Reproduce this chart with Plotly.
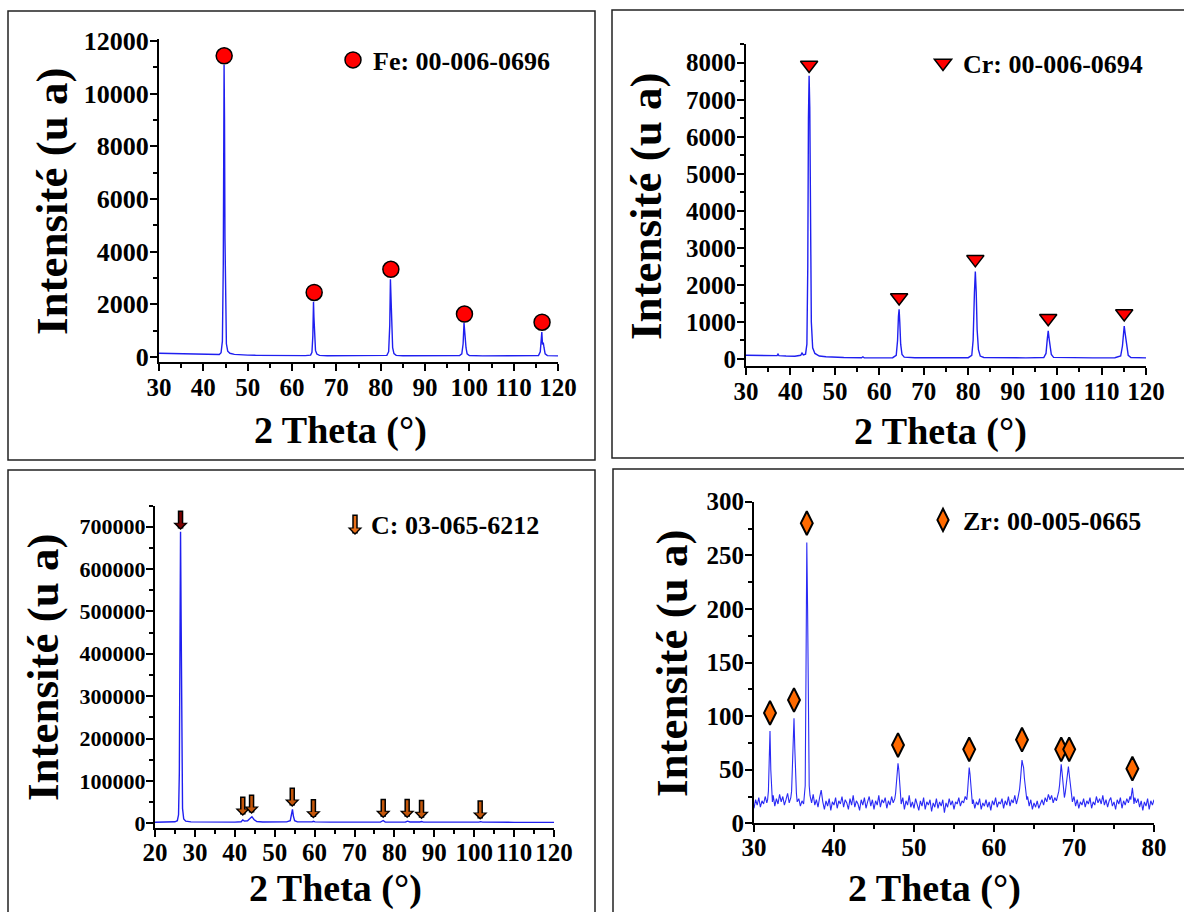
import plotly.graph_objects as go

W, H = 1184, 912

# ---------------- data ----------------
fe_2theta = [30, 31, 32, 33, 34, 35, 36, 37, 38, 39, 40, 41, 42, 43,
             43.6, 44.0, 44.3, 44.5, 44.6, 44.68, 44.78, 44.88, 45.0, 45.2, 45.5,
             46, 47, 48, 50, 52, 55, 58, 61, 63,
             64.2, 64.5, 64.7, 64.85, 64.95, 65.1, 65.3, 65.6, 66.2,
             68, 72, 76, 80,
             81.4, 81.8, 82.05, 82.2, 82.35, 82.5, 82.7, 83.0, 83.5,
             85, 90, 95,
             97.8, 98.3, 98.6, 98.8, 98.95, 99.1, 99.25, 99.5, 100,
             103, 108, 113,
             115.6, 116.0, 116.2, 116.35, 116.5, 116.7, 116.85, 117.1, 117.6, 120]
fe_intensity = [140, 138, 135, 133, 130, 128, 125, 122, 118, 114, 108, 100, 92, 88,
                95, 160, 600, 3500, 8000, 11100, 9000, 4500, 1500, 500, 220,
                140, 100, 85, 70, 62, 55, 52, 50, 50,
                70, 180, 800, 2100, 1500, 600, 250, 110, 60,
                48, 45, 45, 46,
                60, 200, 1200, 2950, 2000, 900, 350, 130, 60,
                45, 42, 42,
                50, 120, 500, 1300, 900, 650, 350, 120, 55,
                42, 40, 40,
                50, 200, 600, 950, 500, 520, 350, 120, 50, 40]
fe_peak_2theta = [44.7, 65.0, 82.3, 98.9, 116.4]
fe_peak_mark = [11440, 2450, 3330, 1630, 1320]

cr_2theta = [30, 32, 34, 36, 37, 37.2, 37.4, 39, 41,
             42.3, 42.6, 42.9, 43.4, 43.7, 43.9, 44.05, 44.2, 44.35, 44.5, 44.7, 45.0, 45.5, 46.5, 48,
             52, 56, 56.3, 56.6, 60, 63,
             63.8, 64.1, 64.3, 64.45, 64.6, 64.8, 65.1, 65.6,
             68, 72, 76, 80,
             80.8, 81.1, 81.4, 81.6, 81.8, 82.0, 82.3, 82.7, 83.5,
             88, 93, 97,
             97.5, 97.8, 98.0, 98.2, 98.4, 98.7, 99.2,
             103, 108, 113,
             114.3, 114.7, 114.95, 115.1, 115.3, 115.5, 115.7, 116.0, 116.6, 120]
cr_intensity = [100, 95, 90, 85, 90, 130, 90, 80, 75,
                100, 160, 110, 130, 400, 2500, 6500, 7650, 6800, 3500, 1000, 300, 150, 80, 60,
                40, 35, 60, 35, 30, 35,
                100, 500, 1150, 1340, 1000, 400, 120, 50,
                35, 30, 30, 35,
                100, 500, 1800, 2360, 1800, 800, 250, 80, 40,
                30, 30, 40,
                150, 550, 760, 550, 350, 120, 45,
                30, 30, 35,
                80, 350, 800, 890, 700, 550, 300, 100, 40, 30]
cr_peak_2theta = [44.2, 64.45, 81.6, 98.0, 115.1]
cr_peak_mark = [7940, 1660, 2690, 1100, 1230]

c_2theta = [20, 22, 24, 25, 25.6, 25.9, 26.1, 26.25, 26.4, 26.55, 26.7, 26.9, 27.2, 27.7, 29,
            32, 36, 40, 41.6, 42.0, 42.4, 43.2, 43.8, 44.3, 44.8, 45.5, 47, 50, 53,
            53.9, 54.2, 54.45, 54.7, 55.0, 55.7, 58, 59.4, 59.7, 60.1,
            64, 70, 76.5, 77.2, 77.7, 80,
            82.8, 83.3, 83.9, 86.4, 86.8, 87.3,
            92, 100, 101.2, 101.6, 102.1, 110, 120]
c_intensity = [2400, 2500, 2800, 3500, 6000, 20000, 120000, 450000, 688000, 480000, 150000, 35000, 10000, 5000, 3200,
               2800, 2600, 2800, 3500, 8000, 5000, 6000, 11000, 15500, 9000, 4000, 3000, 2800, 3200,
               6000, 18000, 33000, 16000, 6000, 3200, 2900, 3200, 4500, 3200,
               2800, 2600, 2800, 6500, 3000, 2600,
               3000, 5000, 3000, 3000, 4000, 2800,
               2500, 2400, 2800, 3800, 2600, 2200, 2000]
c_arrow_2theta = [26.4, 42.0, 44.2, 54.4, 59.7, 77.2, 83.2, 86.8, 101.5]
c_arrow_tip = [692000, 17400, 22000, 38500, 11000, 12000, 12000, 9600, 8000]

zr_pattern = [
    (30.0, 14), (30.2, 22), (30.4, 17), (30.6, 24), (30.8, 15), (31.0, 21), (31.2, 18), (31.4, 25), (31.6, 19),
    (31.7, 22), (31.8, 30), (31.9, 55), (32.0, 86), (32.1, 50), (32.2, 28), (32.3, 20),
    (32.4, 26), (32.6, 16), (32.8, 23), (33.0, 18), (33.2, 27), (33.4, 20), (33.6, 25), (33.8, 17), (34.0, 22),
    (34.2, 28), (34.4, 19),
    (34.6, 24), (34.7, 30), (34.8, 50), (34.9, 80), (35.0, 98), (35.1, 70), (35.2, 42), (35.3, 28), (35.4, 20),
    (35.6, 23), (35.8, 16), (36.0, 21), (36.2, 18), (36.3, 24),
    (36.4, 35), (36.5, 140), (36.6, 262), (36.7, 200), (36.8, 80), (36.9, 35), (37.0, 26),
    (37.2, 19), (37.4, 27), (37.6, 17), (37.8, 22), (38.0, 15), (38.2, 24), (38.4, 31), (38.6, 20), (38.8, 13),
    (39.0, 21), (39.2, 16), (39.4, 23), (39.6, 12), (39.8, 20), (40.0, 17), (40.2, 24), (40.4, 14), (40.6, 21),
    (40.8, 18), (41.0, 25), (41.2, 15), (41.4, 22), (41.6, 19), (41.8, 13), (42.0, 23), (42.2, 17), (42.4, 26),
    (42.6, 15), (42.8, 21), (43.0, 18), (43.2, 12), (43.4, 22), (43.6, 17), (43.8, 24), (44.0, 14), (44.2, 20),
    (44.4, 25), (44.6, 16), (44.8, 22), (45.0, 13), (45.2, 21), (45.4, 17), (45.6, 26), (45.8, 15), (46.0, 22),
    (46.2, 19), (46.4, 24), (46.6, 14), (46.8, 21), (47.0, 17), (47.2, 25), (47.4, 19), (47.6, 23),
    (47.7, 28), (47.8, 36), (47.9, 48), (48.0, 56), (48.1, 50), (48.2, 38), (48.3, 26), (48.4, 18),
    (48.6, 24), (48.8, 13), (49.0, 21), (49.2, 17), (49.4, 26), (49.6, 15), (49.8, 20), (50.0, 14), (50.2, 23),
    (50.4, 18), (50.6, 12), (50.8, 21), (51.0, 16), (51.2, 24), (51.4, 13), (51.6, 20), (51.8, 17), (52.0, 22),
    (52.2, 11), (52.4, 19), (52.6, 15), (52.8, 23), (53.0, 14), (53.2, 20), (53.4, 16), (53.6, 22), (53.8, 10),
    (54.0, 19), (54.2, 15), (54.4, 23), (54.6, 17), (54.8, 21), (55.0, 13), (55.2, 20), (55.4, 18), (55.6, 24),
    (55.8, 16), (56.0, 21), (56.2, 19), (56.4, 25), (56.6, 22),
    (56.7, 30), (56.8, 44), (56.9, 52), (57.0, 46), (57.1, 34), (57.2, 25), (57.3, 18),
    (57.4, 22), (57.6, 14), (57.8, 20), (58.0, 17), (58.2, 23), (58.4, 13), (58.6, 19), (58.8, 16), (59.0, 22),
    (59.2, 15), (59.4, 20), (59.6, 12), (59.8, 21), (60.0, 17), (60.2, 24), (60.4, 15), (60.6, 20), (60.8, 18),
    (61.0, 23), (61.2, 14), (61.4, 21), (61.6, 17), (61.8, 25), (62.0, 16), (62.2, 22), (62.4, 19), (62.6, 26),
    (62.8, 18), (63.0, 24), (63.1, 28),
    (63.2, 32), (63.3, 40), (63.4, 50), (63.5, 59), (63.6, 55), (63.7, 52), (63.8, 42), (63.9, 34), (64.0, 27),
    (64.1, 22),
    (64.2, 25), (64.4, 16), (64.6, 22), (64.8, 13), (65.0, 19), (65.2, 15), (65.4, 21), (65.6, 14), (65.8, 18),
    (66.0, 22), (66.2, 17), (66.4, 24), (66.6, 20), (66.8, 27), (67.0, 22), (67.2, 26), (67.4, 19), (67.6, 24),
    (67.8, 21), (68.0, 27),
    (68.1, 30), (68.2, 36), (68.3, 45), (68.4, 55), (68.5, 48), (68.6, 38), (68.7, 30), (68.8, 24), (68.9, 28),
    (69.0, 34), (69.1, 42), (69.2, 50), (69.3, 53), (69.4, 46), (69.5, 38), (69.6, 30), (69.7, 24), (69.8, 20),
    (70.0, 25), (70.2, 16), (70.4, 22), (70.6, 14), (70.8, 20), (71.0, 17), (71.2, 23), (71.4, 15), (71.6, 21),
    (71.8, 18), (72.0, 24), (72.2, 14), (72.4, 20), (72.6, 17), (72.8, 25), (73.0, 19), (73.2, 23), (73.4, 18),
    (73.6, 26), (73.8, 17), (74.0, 22), (74.2, 15), (74.4, 21), (74.6, 24), (74.8, 16), (75.0, 20), (75.2, 13),
    (75.4, 22), (75.6, 18), (75.8, 24), (76.0, 14), (76.2, 21), (76.4, 17), (76.6, 23), (76.8, 19), (77.0, 25),
    (77.1, 22), (77.2, 29), (77.3, 33), (77.4, 26), (77.5, 18),
    (77.6, 24), (77.8, 19), (78.0, 23), (78.2, 15), (78.4, 21), (78.6, 12), (78.8, 20), (79.0, 16), (79.2, 23),
    (79.4, 13), (79.6, 21), (79.8, 17), (80.0, 22),
]
zr_2theta = [p[0] for p in zr_pattern]
zr_intensity = [p[1] for p in zr_pattern]
zr_peak_2theta = [32.0, 35.0, 36.6, 48.0, 56.9, 63.5, 68.4, 69.4, 77.3]
zr_peak_mark = [103, 115, 280, 73, 69, 78, 69, 69, 51]

fe_label = "Fe: 00-006-0696"
cr_label = "Cr: 00-006-0694"
c_label = "C: 03-065-6212"
zr_label = "Zr: 00-005-0665"
x_title = "2 Theta (°)"
y_title = "Intensité (u a)"

# ---------------- helpers ----------------
FONT = "Liberation Serif"


def px(x):
    return x / W


def py(y):
    return 1 - y / H


def axis(domain, rng, dtick, minor, anchor, fs, standoff, tick0=0):
    return dict(
        domain=domain, range=rng, anchor=anchor, automargin=False,
        showline=True, linecolor="black", linewidth=2,
        ticks="outside", ticklen=7, tickwidth=2, tickcolor="black",
        tick0=tick0, dtick=dtick, ticklabelstandoff=standoff,
        minor=dict(ticks="outside", dtick=minor, tick0=tick0, ticklen=4,
                   tickwidth=1.5, tickcolor="black", showgrid=False),
        showgrid=False, zeroline=False, tickangle=0, tickformat="d",
        tickfont=dict(family=FONT, size=fs, color="black", weight="bold"),
    )


LINE = dict(color="#1f1ff0", width=1.4)

fig = go.Figure()

# Fe panel
fig.add_trace(go.Scatter(x=fe_2theta, y=fe_intensity, mode="lines", line=LINE,
                         xaxis="x", yaxis="y", showlegend=False, hoverinfo="skip"))
fig.add_trace(go.Scatter(x=fe_peak_2theta, y=fe_peak_mark, mode="markers", name=fe_label,
                         marker=dict(symbol="circle", size=16, color="#ff0000",
                                     line=dict(color="black", width=1.5)),
                         xaxis="x", yaxis="y", legend="legend", cliponaxis=False))
# Cr panel
fig.add_trace(go.Scatter(x=cr_2theta, y=cr_intensity, mode="lines", line=LINE,
                         xaxis="x2", yaxis="y2", showlegend=False, hoverinfo="skip"))
fig.add_trace(go.Scatter(x=cr_peak_2theta, y=cr_peak_mark, mode="markers", name=cr_label,
                         marker=dict(symbol="triangle-down", size=15, color="#ff0000",
                                     line=dict(color="black", width=1.5)),
                         xaxis="x2", yaxis="y2", legend="legend2", cliponaxis=False))
# C panel
fig.add_trace(go.Scatter(x=c_2theta, y=c_intensity, mode="lines", line=LINE,
                         xaxis="x3", yaxis="y3", showlegend=False, hoverinfo="skip"))
# Zr panel
fig.add_trace(go.Scatter(x=zr_2theta, y=zr_intensity, mode="lines",
                         line=dict(color="#2a2af5", width=1.1),
                         xaxis="x4", yaxis="y4", showlegend=False, hoverinfo="skip"))
fig.add_trace(go.Scatter(x=zr_peak_2theta, y=zr_peak_mark, mode="markers", name=zr_label,
                         marker=dict(symbol="diamond-tall", size=17, color="#ff6a00",
                                     line=dict(color="black", width=2)),
                         xaxis="x4", yaxis="y4", legend="legend3", cliponaxis=False))

# C peak arrows (outlined block arrows)
for i, (xv, yv) in enumerate(zip(c_arrow_2theta, c_arrow_tip)):
    fill = "#7d0000" if i == 0 else "#c4570b"
    fig.add_annotation(x=xv, y=yv, xref="x3", yref="y3", text="", showarrow=True,
                       ax=0, ay=-21, arrowhead=1, arrowwidth=5.5, arrowsize=0.45,
                       arrowcolor="black")
    fig.add_annotation(x=xv, y=yv, xref="x3", yref="y3", text="", showarrow=True,
                       ax=0, ay=-19.5, arrowhead=1, arrowwidth=2.5, arrowsize=0.6,
                       arrowcolor=fill, standoff=2)

# C legend (arrow + label)
fig.add_annotation(x=px(355), y=py(535), xref="paper", yref="paper", text="", showarrow=True,
                   ax=0, ay=-22, arrowhead=1, arrowwidth=5.5, arrowsize=0.45, arrowcolor="black")
fig.add_annotation(x=px(355), y=py(535), xref="paper", yref="paper", text="", showarrow=True,
                   ax=0, ay=-20.5, arrowhead=1, arrowwidth=2.5, arrowsize=0.6,
                   arrowcolor="#e8701a", standoff=2)
fig.add_annotation(x=px(369), y=py(525), xref="paper", yref="paper", text=c_label,
                   showarrow=False, xanchor="left", yanchor="middle",
                   font=dict(family=FONT, size=26, color="black", weight="bold"))

# axis titles (top row centred; bottom row sits on the lower page edge)
XT_FONT = dict(family=FONT, size=38, color="black", weight="bold")
for cx, cy in [(340, 430), (940, 432)]:
    fig.add_annotation(x=px(cx), y=py(cy), xref="paper", yref="paper", text=x_title,
                       showarrow=False, xanchor="center", yanchor="middle", font=XT_FONT)
for cx in [335, 934]:
    fig.add_annotation(x=px(cx), y=0, xref="paper", yref="paper", text=x_title,
                       showarrow=False, xanchor="center", yanchor="bottom", font=XT_FONT)
for cx, cy in [(52, 201), (646, 206), (43, 667), (672, 663)]:
    fig.add_annotation(x=px(cx), y=py(cy), xref="paper", yref="paper", text=y_title,
                       showarrow=False, textangle=-90, xanchor="center", yanchor="middle",
                       font=dict(family=FONT, size=45, color="black", weight="bold"))

# panel frames
for x0, y0, x1, y1 in [(8, 11, 595, 460), (612, 10, 1190, 458),
                       (8, 470, 595, 920), (613, 469, 1190, 920)]:
    fig.add_shape(type="rect", xref="paper", yref="paper",
                  x0=px(x0), x1=px(x1), y0=py(y1), y1=py(y0),
                  line=dict(color="#222222", width=1.5), fillcolor="rgba(0,0,0,0)")

LEG = dict(bgcolor="rgba(0,0,0,0)", borderwidth=0, xanchor="left", yanchor="middle",
           itemwidth=30, font=dict(family=FONT, size=26, color="black", weight="bold"))

fig.update_layout(
    width=W, height=H, margin=dict(l=0, r=0, t=0, b=0, pad=0, autoexpand=False),
    paper_bgcolor="white", plot_bgcolor="white",
    xaxis=axis([px(159), px(558)], [30, 120], 10, 5, "y", 25, -5),
    yaxis=axis([py(361.7), py(39.2)], [-180, 12070], 2000, 1000, "x", 26, -4),
    xaxis2=axis([px(746), px(1146)], [30, 120], 10, 5, "y2", 25, -5),
    yaxis2=axis([py(366.4), py(44.2)], [-200, 8500], 1000, 500, "x2", 25, -4),
    xaxis3=axis([px(155), px(554)], [20, 120], 10, 5, "y3", 25, -6),
    yaxis3=axis([py(827.5), py(505.5)], [-10000, 750000], 100000, 50000, "x3", 22, -4),
    xaxis4=axis([px(754), px(1154)], [30, 80], 10, 5, "y4", 25, -6),
    yaxis4=axis([py(823.3), py(501.7)], [0, 300], 50, 25, "x4", 25, -4),
    legend=dict(LEG, x=px(333), y=py(60)),
    legend2=dict(LEG, x=px(923), y=py(63)),
    legend3=dict(LEG, x=px(923), y=py(520)),
)

fig.write_html("out.html")
